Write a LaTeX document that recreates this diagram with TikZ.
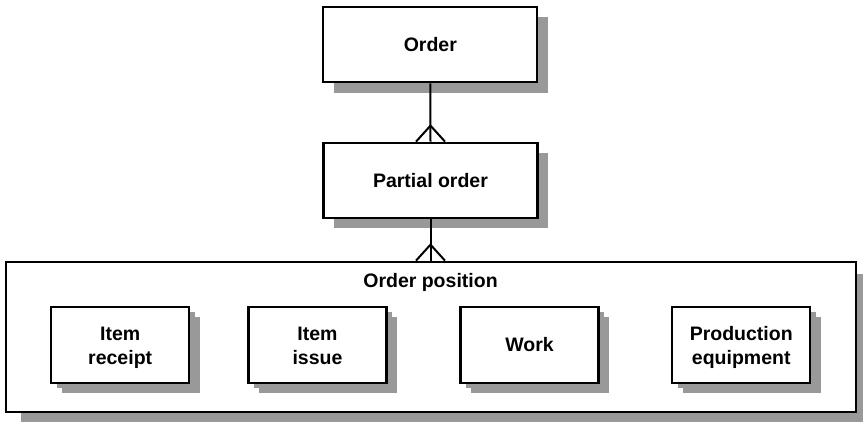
\documentclass[tikz,border=0pt]{standalone}
\usepackage{fontspec}
\setmainfont{Liberation Sans}
\usetikzlibrary{shadows}
\definecolor{shgray}{RGB}{153,153,153}
\newcommand{\lnstrut}{\rule[-4.4pt]{0pt}{24pt}}
\tikzset{
  ent/.style={draw=black, line width=2.1pt, fill=white, inner sep=0pt, align=center,
    font=\fontsize{19.5}{24}\selectfont\bfseries,
    drop shadow={shadow xshift=10.5pt, shadow yshift=-10.5pt, fill=shgray, opacity=1}},
  sub/.style={ent, minimum width=138pt, minimum height=76pt,
    drop shadow={shadow xshift=5.5pt, shadow yshift=-5pt, fill=shgray, opacity=1}},
  one/.style={text depth=0pt},
  conn/.style={line width=2pt, black},
}
\begin{document}
\begin{tikzpicture}[x=1pt, y=-1pt]
\useasboundingbox (0,0) rectangle (863,422);
\node[draw=black, line width=2.1pt, fill=white, minimum width=850pt, minimum height=150pt, inner sep=0pt,
  drop shadow={shadow xshift=15pt, shadow yshift=-12pt, fill=shgray, opacity=1}] (pos) at (430.7,336.7) {};
\node[ent, one, minimum width=214pt, minimum height=75.6pt] (order) at (430.3,44.5) {Order};
\node[ent, one, minimum width=214pt, minimum height=75pt] (partial) at (430.5,180.2) {Partial order};
\node[one, font=\fontsize{19.5}{24}\selectfont\bfseries, inner sep=0pt] (postext) at (430.5,280.7) {Order position};
\node[sub] (receipt) at (120.2,344.7) {Item\lnstrut\\receipt\lnstrut};
\node[sub] (issue) at (317.5,344.7) {Item\lnstrut\\issue\lnstrut};
\node[sub, one] (work) at (529.5,344.7) {Work};
\node[sub] (equip) at (741.2,344.7) {Production\lnstrut\\equipment\lnstrut};
% connectors with crow's feet
\draw[conn] (order.south) -- (partial.north);
\draw[conn] ([xshift=-14.5pt]partial.north) -- ([yshift=16pt]partial.north) -- ([xshift=14.5pt]partial.north);
\draw[conn] (partial.south) -- (partial.south |- pos.north);
\draw[conn] ([xshift=-14.5pt]partial.south |- pos.north) -- ([yshift=16pt]partial.south |- pos.north) -- ([xshift=14.5pt]partial.south |- pos.north);
\end{tikzpicture}
\end{document}
